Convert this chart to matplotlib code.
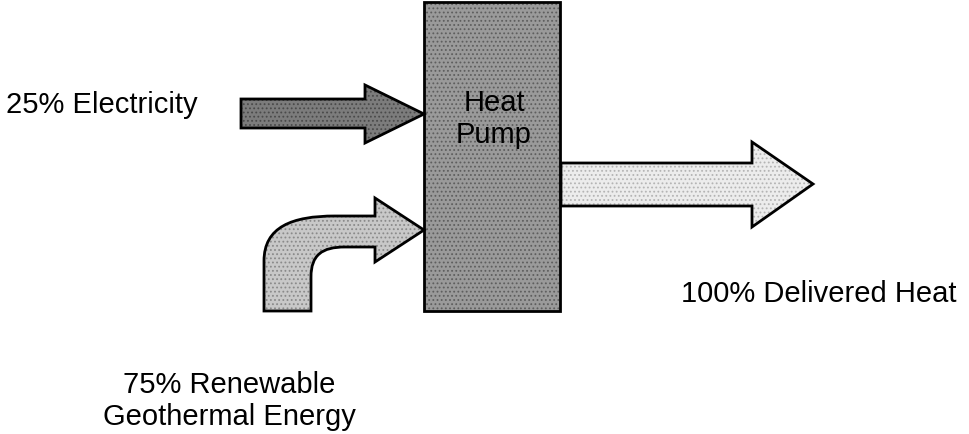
import matplotlib
matplotlib.use("Agg")
import matplotlib.pyplot as plt
from matplotlib.patches import Polygon, Rectangle, PathPatch
from matplotlib.path import Path

plt.rcParams['font.family'] = ['Liberation Sans', 'DejaVu Sans']
plt.rcParams['hatch.linewidth'] = 0.8

# energy shares shown in the diagram
shares = [25, 75, 100]
sources = ['Electricity', 'Renewable\nGeothermal Energy', 'Delivered Heat']
box_label = ['Heat', 'Pump']

W, H = 970, 435
fig = plt.figure(figsize=(9.7, 4.35), dpi=100)
ax = fig.add_axes([0, 0, 1, 1])
ax.set_xlim(0, W)
ax.set_ylim(H, 0)
ax.axis('off')

edge = dict(edgecolor='black', linewidth=2.0, joinstyle='miter')


def speckled(patch_cls, geom, face, dots, **kw):
    # solid fill, a dotted overlay for the scanned texture, then the outline
    ax.add_patch(patch_cls(geom, facecolor=face, edgecolor='none', **kw))
    ax.add_patch(patch_cls(geom, facecolor='none', edgecolor=dots,
                           hatch='....', linewidth=0, **kw))
    ax.add_patch(patch_cls(geom, facecolor='none', **edge, **kw))


# heat pump box
box = [(424, 3), (560, 3), (560, 312), (424, 312)]
speckled(Polygon, box, '#9a9a9a', '#5e5e5e', closed=True)

# electricity arrow (dark)
elec = [(241, 100), (365, 100), (365, 86), (424, 115),
        (365, 144), (365, 129), (241, 129)]
speckled(Polygon, elec, '#7c7c7c', '#4a4a4a', closed=True)

# delivered heat arrow (light)
out = [(561, 164), (752, 164), (752, 143), (813, 185),
       (752, 228), (752, 207), (561, 207)]
speckled(Polygon, out, '#ececec', '#b4b4b4', closed=True)

# curved geothermal arrow
verts = [(264, 312), (264, 262),
         (264, 228), (292, 217), (335, 217),
         (375, 217), (375, 199), (424, 231), (375, 263), (375, 248),
         (345, 248),
         (322, 248), (311, 256), (311, 278),
         (311, 312), (264, 312)]
codes = [Path.MOVETO, Path.LINETO,
         Path.CURVE4, Path.CURVE4, Path.CURVE4,
         Path.LINETO, Path.LINETO, Path.LINETO, Path.LINETO, Path.LINETO,
         Path.LINETO,
         Path.CURVE4, Path.CURVE4, Path.CURVE4,
         Path.LINETO, Path.CLOSEPOLY]
speckled(PathPatch, Path(verts, codes), '#c8c8c8', '#8a8a8a')

fs = 21
ax.text(6, 113, f'{shares[0]}% {sources[0]}', fontsize=fs, va='baseline', ha='left')
ax.text(681, 302, f'{shares[2]}% {sources[2]}', fontsize=fs, va='baseline', ha='left')
geo1, geo2 = sources[1].split('\n')
ax.text(229, 393, f'{shares[1]}% {geo1}', fontsize=fs, va='baseline', ha='center')
ax.text(229, 425, geo2, fontsize=fs, va='baseline', ha='center')
ax.text(494, 111, box_label[0], fontsize=fs, va='baseline', ha='center')
ax.text(494, 143, box_label[1], fontsize=fs, va='baseline', ha='center')

fig.savefig('out.png', dpi=100, facecolor='white')
